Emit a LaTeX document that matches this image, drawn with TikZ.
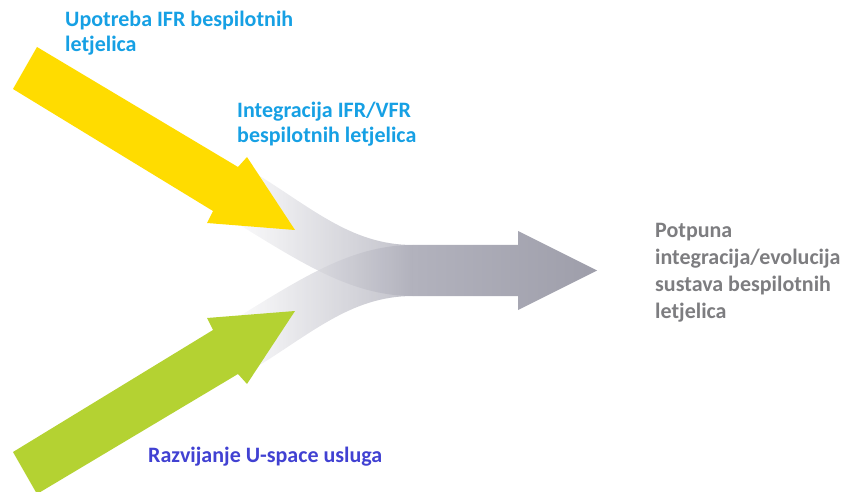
\documentclass[tikz,border=0pt]{standalone}
\usepackage{fontspec}
\setmainfont{Carlito}
\usetikzlibrary{positioning}
\definecolor{arrowyellow}{RGB}{255,220,0}
\definecolor{arrowgreen}{RGB}{180,210,50}
\definecolor{arrowgray}{RGB}{158,158,170}
\definecolor{bandgray}{RGB}{172,172,184}
\definecolor{shaftgray}{RGB}{178,178,189}
\definecolor{skyblue}{RGB}{22,160,228}
\definecolor{uspaceblue}{RGB}{65,65,210}
\definecolor{goalgray}{RGB}{125,125,128}
\tikzset{txt/.style = {anchor=base west, inner sep=0pt, align=left, font=\fontsize{22}{25}\selectfont\bfseries}}
\tikzset{band/.style = {left color=white, right color=bandgray, opacity=0.75}}

\begin{document}
\begin{tikzpicture}[x=1pt,y=-1pt]
            \useasboundingbox (0,0) rectangle (847,492);

            % Bands
            \shade[band] (250,170) .. controls (310,206) and (350,245) .. (413,245)
                -- (413,296) .. controls (350,296) and (300,262) .. (222,214) -- cycle;
            \shade[band] (250,371) .. controls (310,335) and (350,296) .. (413,296)
                -- (413,245) .. controls (350,245) and (300,279) .. (222,327) -- cycle;

            % Gray arrow
            \shade[left color=shaftgray, right color=arrowgray] (413,245) -- (518,245) -- (518,231)
                -- (597,270.5) -- (518,310) -- (518,296) -- (413,296) -- cycle;

            % Yellow and green arrows
            \fill[arrowyellow] (37,47) -- (238,167) -- (247,157) -- (295,230)
                -- (207,223) -- (213,211) -- (13,89) -- cycle;
            \fill[arrowgreen] (37,494) -- (238,374) -- (247,384) -- (295,311)
                -- (207,318) -- (213,330) -- (13,452) -- cycle;

            % Labels (base = last line)
            \node[txt, text=skyblue] (ifr) at (65,51.7) {Upotreba IFR bespilotnih\\letjelica};
            \node[txt, text=skyblue] (integ) at (237,143) {Integracija IFR/VFR\\bespilotnih letjelica};
            \node[txt, text=uspaceblue] (uspace) at (148,462) {Razvijanje U-space usluga};
            \node[txt, text=goalgray, font=\fontsize{22}{27}\selectfont\bfseries] (goal) at (655,318)
                {Potpuna\\integracija/evolucija\\sustava bespilotnih\\letjelica};
        \end{tikzpicture}
\end{document}
